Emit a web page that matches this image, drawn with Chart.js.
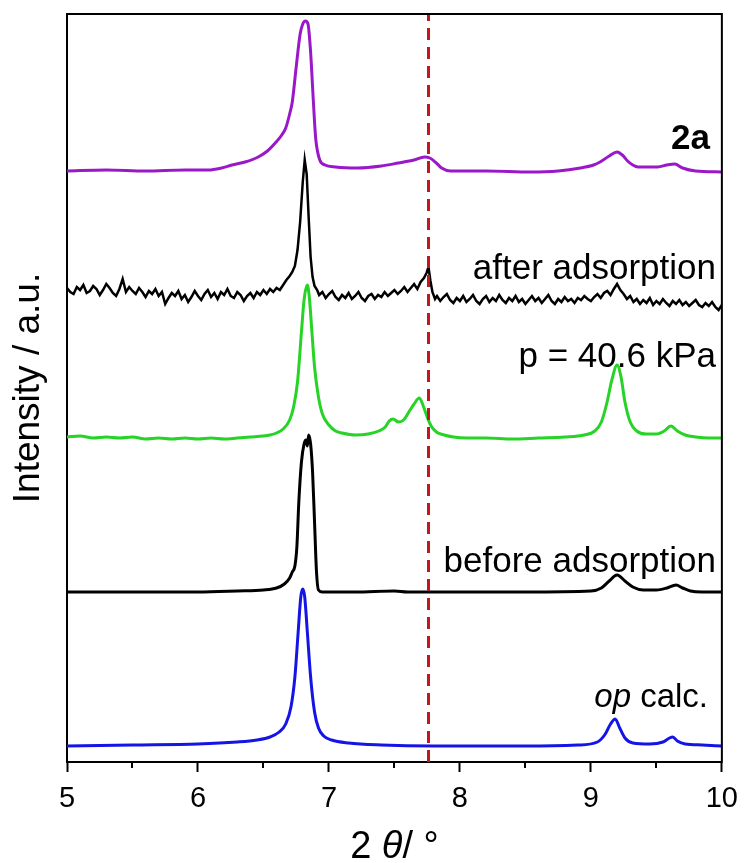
<!DOCTYPE html>
<html>
<head>
<meta charset="utf-8">
<script src="https://cdn.jsdelivr.net/npm/chart.js@4.4.0/dist/chart.umd.min.js"></script>
<style>
  html, body { margin: 0; padding: 0; background: #fff; }
  canvas { display: block; }
</style>
</head>
<body>
<canvas id="chXrd" width="748" height="863"></canvas>
<script>
// Stacked PXRD patterns, intensity in arbitrary (offset) units

// 2a
const x2a = [5.00, 5.30, 5.60, 5.90, 6.08, 6.18, 6.26, 6.36, 6.46, 6.53, 6.59, 6.64, 6.67, 6.70, 6.72, 6.75, 6.78, 6.80, 6.82, 6.84, 6.86, 6.875, 6.89, 6.90, 6.93, 6.97, 7.05, 7.22, 7.40, 7.53, 7.65, 7.73, 7.77, 7.82, 7.86, 7.93, 8.20, 8.54, 8.75, 8.92, 9.02, 9.07, 9.14, 9.20, 9.24, 9.28, 9.32, 9.36, 9.45, 9.51, 9.58, 9.64, 9.70, 9.80, 10.00];
const y2a = [591, 592, 591, 592, 592, 594, 597, 600, 605, 611, 619, 627, 634, 648, 660, 695, 728, 738, 741, 738, 710, 675, 640, 622, 602, 597, 595, 594, 596, 599, 602, 605, 604, 599, 594, 591, 591, 590, 591, 594, 597, 600, 606, 610, 607, 601, 597, 595, 595, 595, 597, 598, 594, 591, 590];

// after adsorption
const xAfter = [5.000, 5.025, 5.050, 5.075, 5.100, 5.125, 5.150, 5.175, 5.200, 5.225, 5.250, 5.275, 5.300, 5.325, 5.350, 5.375, 5.400, 5.425, 5.450, 5.475, 5.500, 5.525, 5.550, 5.575, 5.600, 5.625, 5.650, 5.675, 5.700, 5.725, 5.750, 5.775, 5.800, 5.825, 5.850, 5.875, 5.900, 5.925, 5.950, 5.975, 6.000, 6.025, 6.050, 6.075, 6.100, 6.125, 6.150, 6.175, 6.200, 6.225, 6.250, 6.275, 6.300, 6.325, 6.350, 6.375, 6.400, 6.425, 6.450, 6.475, 6.500, 6.525, 6.550, 6.575, 6.600, 6.625,
	6.650, 6.675, 6.700, 6.720, 6.740, 6.760, 6.780, 6.800, 6.815, 6.830, 6.845, 6.860, 6.875, 6.890, 6.910,
	6.925, 6.950, 6.975, 7.000, 7.025, 7.050, 7.075, 7.100, 7.125, 7.150, 7.175, 7.200, 7.225, 7.250, 7.275, 7.300, 7.325, 7.350, 7.375, 7.400, 7.425, 7.450, 7.475, 7.500, 7.525, 7.550, 7.575, 7.600, 7.625, 7.650, 7.675, 7.700, 7.725, 7.745, 7.760, 7.775, 7.790, 7.810,
	7.825, 7.850, 7.875, 7.900, 7.925, 7.950, 7.975, 8.000, 8.025, 8.050, 8.075, 8.100, 8.125, 8.150, 8.175, 8.200, 8.225, 8.250, 8.275, 8.300, 8.325, 8.350, 8.375, 8.400, 8.425, 8.450, 8.475, 8.500, 8.525, 8.550, 8.575, 8.600, 8.625, 8.650, 8.675, 8.700, 8.725, 8.750, 8.775, 8.800, 8.825, 8.850, 8.875, 8.900, 8.925, 8.950, 8.975,
	9.000, 9.025, 9.050, 9.075, 9.100, 9.125, 9.150, 9.175, 9.200, 9.225, 9.250, 9.275, 9.300, 9.325, 9.350, 9.375, 9.400, 9.425, 9.450, 9.475, 9.500, 9.525, 9.550, 9.575, 9.600, 9.625, 9.650, 9.675, 9.700, 9.725, 9.750, 9.775, 9.800, 9.825, 9.850, 9.875, 9.900, 9.925, 9.950, 9.975, 10.000];
const yAfter = [474, 470, 468, 475, 472, 477, 469, 471, 476, 473, 467, 472, 478, 474, 469, 466, 473, 483, 470, 475, 471, 468, 474, 470, 465, 471, 468, 473, 466, 470, 458, 464, 469, 466, 471, 463, 467, 460, 465, 471, 466, 462, 468, 472, 465, 469, 463, 470, 467, 473, 466, 464, 470, 467, 461, 466, 469, 464, 470, 467, 472, 468, 473, 470, 474, 472,
	477, 482, 486, 490, 496, 512, 540, 580, 602, 588, 545, 505, 485, 476, 472,
	467, 470, 464, 468, 471, 465, 462, 467, 464, 469, 463, 466, 470, 464, 461, 466, 468, 463, 467, 465, 470, 466, 469, 472, 468, 471, 475, 470, 474, 478, 473, 480, 484, 489, 495, 481, 470, 463,
	466, 461, 465, 468, 462, 459, 464, 461, 466, 460, 463, 467, 461, 458, 463, 466, 460, 464, 461, 467, 462, 459, 464, 461, 466, 460, 463, 458, 462, 466, 461, 464, 459, 463, 467, 461, 458, 463, 460, 465, 461, 463, 459, 464, 462, 466, 463,
	461, 465, 468, 464, 469, 471, 467, 473, 478, 472, 468, 463, 466, 460, 463, 458, 462, 459, 464, 457, 461, 458, 463, 459, 456, 461, 458, 462, 457, 460, 456, 459, 462, 457, 455, 459, 456, 460, 455, 452, 457];

// p = 40.6 kPa
const xGas = [5.00, 5.10, 5.20, 5.30, 5.40, 5.50, 5.60, 5.70, 5.80, 5.90, 6.00, 6.10, 6.20, 6.30, 6.40, 6.50, 6.55, 6.60, 6.65, 6.70, 6.73, 6.76, 6.79, 6.81, 6.835, 6.85, 6.87, 6.89, 6.92, 6.95, 7.00, 7.05, 7.10, 7.20, 7.30, 7.38, 7.43, 7.46, 7.49, 7.53, 7.57, 7.61, 7.65, 7.69, 7.72, 7.75, 7.78, 7.82, 7.88, 7.95, 8.05, 8.20, 8.40, 8.60, 8.80, 8.95, 9.03, 9.08, 9.12, 9.16, 9.20, 9.23, 9.26, 9.30, 9.35, 9.42, 9.50, 9.56, 9.61, 9.66, 9.72, 9.80, 9.90, 10.00];
const yGas = [325, 326, 324, 325, 324, 325, 323, 324, 323, 324, 323, 324, 323, 324, 325, 326, 327, 329, 333, 342, 355, 380, 430, 462, 477, 465, 430, 395, 365, 348, 337, 331, 329, 327, 328, 331, 335, 341, 343, 340, 342, 350, 358, 364, 356, 345, 336, 330, 327, 325, 324, 324, 323, 324, 325, 327, 331, 340, 358, 382, 397, 385, 360, 340, 331, 328, 328, 331, 336, 331, 327, 325, 324, 324];

// before adsorption
const xBefore = [5.00, 5.50, 6.00, 6.30, 6.50, 6.60, 6.66, 6.70, 6.72, 6.74, 6.755, 6.77, 6.79, 6.81, 6.825, 6.835, 6.845, 6.86, 6.875, 6.89, 6.905, 6.92, 6.95, 7.20, 7.50, 7.60, 8.00, 8.50, 9.00, 9.08, 9.14, 9.20, 9.26, 9.32, 9.40, 9.50, 9.58, 9.65, 9.70, 9.76, 9.85, 10.00];
const yBefore = [170, 170, 170, 171, 172, 174, 178, 184, 190, 196, 215, 260, 300, 318, 322, 316, 327, 318, 290, 240, 190, 172, 170, 170, 171, 170, 170, 170, 171, 174, 181, 187, 181, 175, 172, 172, 174, 177, 174, 171, 170, 170];

// op calc.
const xCalc = [5.00, 5.50, 6.00, 6.30, 6.45, 6.55, 6.62, 6.67, 6.71, 6.74, 6.765, 6.785, 6.80, 6.815, 6.835, 6.86, 6.89, 6.92, 6.96, 7.02, 7.15, 7.40, 7.80, 8.50, 8.90, 9.05, 9.11, 9.15, 9.185, 9.22, 9.26, 9.32, 9.45, 9.55, 9.60, 9.625, 9.66, 9.72, 9.85, 10.00];
const yCalc = [16, 17, 18, 20, 22, 25, 30, 38, 55, 85, 130, 165, 173, 165, 130, 85, 50, 34, 26, 22, 19, 17, 16, 16, 17, 20, 28, 38, 43, 34, 24, 19, 18, 20, 24, 25, 21, 18, 17, 16];

// dashed reference position
const markerX = [7.76, 7.76];
const markerY = [0, 748];

const xMajorTicks = [5, 6, 7, 8, 9, 10];
const xMinorTicks = [5.5, 6.5, 7.5, 8.5, 9.5];

const labelFont = 'Liberation Sans, Arial, sans-serif';

function toPoints(xs, ys) {
	return xs.map(function (v, i) { return { x: v, y: ys[i] }; });
}

// frame, minor ticks, x title and curve labels
const decorations = {
	id: 'decorations',
	afterDraw(chart) {
		const ctx = chart.ctx;
		const a = chart.chartArea;
		const xs = chart.scales.x;
		ctx.save();
		ctx.strokeStyle = '#000';
		ctx.lineWidth = 2;
		ctx.beginPath();
		ctx.moveTo(a.left - 1, a.top);
		ctx.lineTo(a.right, a.top);
		ctx.lineTo(a.right, a.bottom + 1);
		ctx.stroke();
		ctx.beginPath();
		xMinorTicks.forEach(function (v) {
			const px = Math.round(xs.getPixelForValue(v));
			ctx.moveTo(px, a.bottom);
			ctx.lineTo(px, a.bottom + 6);
		});
		ctx.stroke();

		ctx.fillStyle = '#000';
		ctx.textBaseline = 'alphabetic';
		// x axis title: 2 θ / °
		const big = '38px ' + labelFont;
		const bigIt = 'italic 38px ' + labelFont;
		ctx.font = big; const w1 = ctx.measureText('2 ').width;
		ctx.font = bigIt; const w2 = ctx.measureText('\u03B8').width;
		ctx.font = big; const w3 = ctx.measureText('/ \u00B0').width;
		let sx = (a.left + a.right) / 2 - (w1 + w2 + w3) / 2;
		ctx.textAlign = 'left';
		ctx.font = big; ctx.fillText('2 ', sx, 858);
		ctx.font = bigIt; ctx.fillText('\u03B8', sx + w1, 858);
		ctx.font = big; ctx.fillText('/ \u00B0', sx + w1 + w2, 858);

		// curve labels
		ctx.textAlign = 'right';
		ctx.font = 'bold 35px ' + labelFont;
		ctx.fillText('2a', 710, 149);
		ctx.font = '35px ' + labelFont;
		ctx.fillText('after adsorption', 716, 279);
		ctx.fillText('p = 40.6 kPa', 716, 367);
		ctx.fillText('before adsorption', 716, 572);
		ctx.font = '33px ' + labelFont;
		const wCalc = ctx.measureText(' calc.').width;
		ctx.fillText(' calc.', 708, 707);
		ctx.font = 'italic 33px ' + labelFont;
		ctx.fillText('op', 708 - wCalc, 707);
		ctx.restore();
	}
};

new Chart(document.getElementById('chXrd'), {
	type: 'line',
	data: {
		datasets: [
			{ data: toPoints(markerX, markerY), borderColor: '#c4161c', borderWidth: 3, borderDash: [12, 7], order: 0 },
			{ data: toPoints(x2a, y2a), borderColor: '#9b18c8', borderWidth: 3, cubicInterpolationMode: 'monotone', order: 1 },
			{ data: toPoints(xAfter, yAfter), borderColor: '#000000', borderWidth: 2.5, order: 2 },
			{ data: toPoints(xGas, yGas), borderColor: '#26d326', borderWidth: 3, cubicInterpolationMode: 'monotone', order: 3 },
			{ data: toPoints(xBefore, yBefore), borderColor: '#000000', borderWidth: 3, cubicInterpolationMode: 'monotone', order: 4 },
			{ data: toPoints(xCalc, yCalc), borderColor: '#1414e6', borderWidth: 3, cubicInterpolationMode: 'monotone', order: 5 }
		]
	},
	options: {
		responsive: false,
		animation: false,
		devicePixelRatio: 1,
		layout: { padding: { top: 14, right: 23, left: 0, bottom: 0 } },
		elements: { point: { radius: 0 } },
		plugins: { legend: { display: false }, tooltip: { enabled: false } },
		scales: {
			x: {
				type: 'linear', min: 5, max: 10,
				afterBuildTicks: function (s) { s.ticks = xMajorTicks.map(function (v) { return { value: v }; }); },
				ticks: { color: '#000', font: { family: labelFont, size: 29 }, padding: 10, maxRotation: 0 },
				grid: { drawOnChartArea: false, tickLength: 10, tickWidth: 2, tickColor: '#000' },
				border: { color: '#000', width: 2 },
				afterFit: function (s) { s.height = 101; }
			},
			y: {
				min: 0, max: 748,
				ticks: { display: false },
				grid: { display: false },
				border: { color: '#000', width: 2 },
				title: { display: true, text: 'Intensity / a.u.', color: '#000', font: { family: labelFont, size: 37 }, padding: { top: 7, bottom: 0 } },
				afterFit: function (s) { s.width = 67; }
			}
		}
	},
	plugins: [decorations]
});
</script>
</body>
</html>
